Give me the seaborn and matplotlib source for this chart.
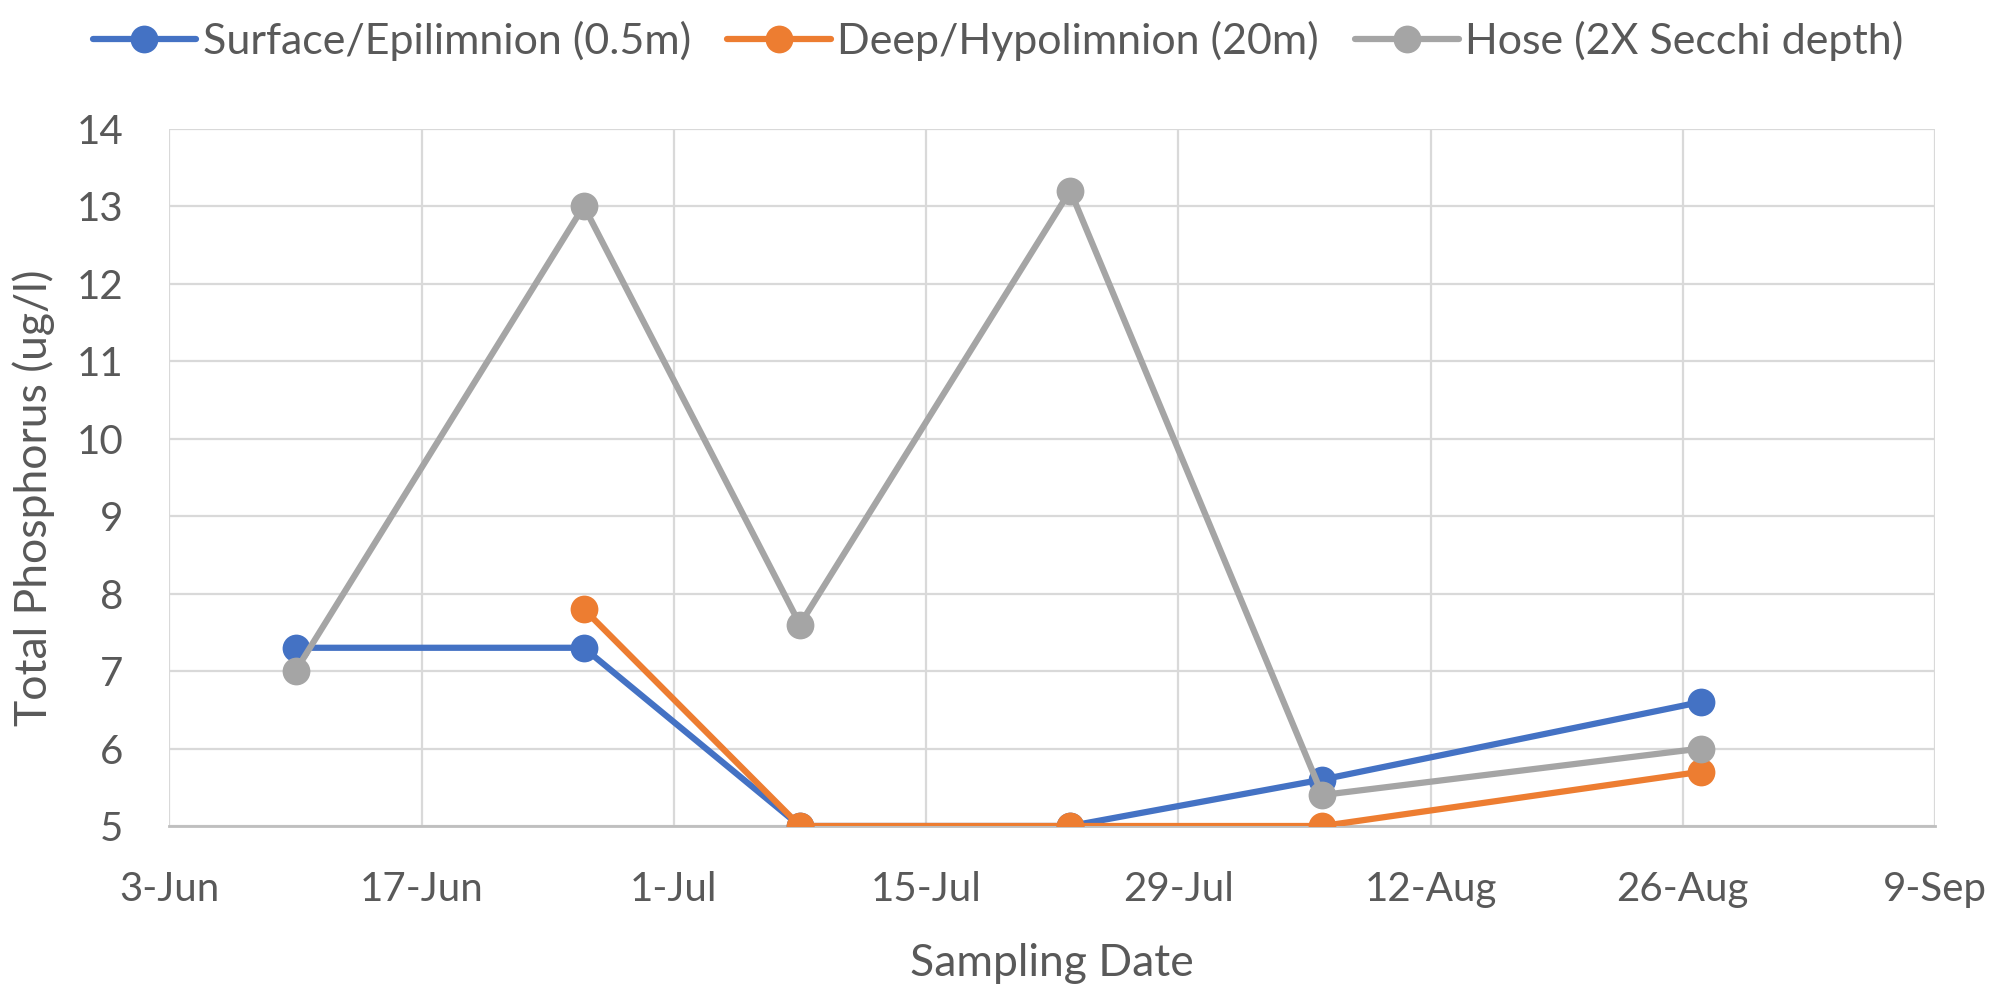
import matplotlib
matplotlib.use("Agg")
import matplotlib.pyplot as plt
import seaborn as sns
import pandas as pd
import numpy as np

# ---- data ----
sample_dates = ["2023-06-10", "2023-06-26", "2023-07-08", "2023-07-23", "2023-08-06", "2023-08-27"]
surface = [7.3, 7.3, 5.0, 5.0, 5.6, 6.6]
deep = [np.nan, 7.8, 5.0, 5.0, 5.0, 5.7]
hose = [7.0, 13.0, 7.6, 13.2, 5.4, 6.0]
series_names = ["Surface/Epilimnion (0.5m)", "Deep/Hypolimnion (20m)", "Hose (2X Secchi depth)"]
series_colors = ["#4472C4", "#ED7D31", "#A5A5A5"]
tick_dates = ["2023-06-03", "2023-06-17", "2023-07-01", "2023-07-15", "2023-07-29",
              "2023-08-12", "2023-08-26", "2023-09-09"]
tick_labels = ["3-Jun", "17-Jun", "1-Jul", "15-Jul", "29-Jul", "12-Aug", "26-Aug", "9-Sep"]
y_ticks = [5, 6, 7, 8, 9, 10, 11, 12, 13, 14]

sns.set_theme(style="white")
plt.rcParams['font.family'] = ['Lato', 'DejaVu Sans']

dates = pd.to_datetime(sample_dates)
df = pd.DataFrame({
    "date": list(dates) * 3,
    "value": surface + deep + hose,
    "series": [series_names[0]] * 6 + [series_names[1]] * 6 + [series_names[2]] * 6,
})

W, H = 1996, 986
ax_l, ax_r, ax_t, ax_b = 169.4, 1935.0, 128.6, 826.0
fig = plt.figure(figsize=(W / 100, H / 100), dpi=100)
ax = fig.add_axes([ax_l / W, 1 - ax_b / H, (ax_r - ax_l) / W, (ax_b - ax_t) / H])

for name, color in zip(series_names, series_colors):
    sub = df[df["series"] == name].dropna()
    sns.lineplot(data=sub, x="date", y="value", ax=ax, color=color, linewidth=4.5,
                 marker="o", markersize=20, markeredgewidth=0, label=name, zorder=3)

tdates = pd.to_datetime(tick_dates)
ax.set_xlim(tdates[0], tdates[-1])
ax.set_xticks(tdates)
ax.set_xticklabels(tick_labels)
ax.set_ylim(5, 14)
ax.set_yticks(y_ticks)

ax.grid(True, color="#D9D9D9", linewidth=1.6, zorder=0)
for s in ["top", "right", "left"]:
    ax.spines[s].set_visible(False)
ax.spines["bottom"].set_color("#BFBFBF")
ax.spines["bottom"].set_linewidth(2)
ax.spines["bottom"].set_zorder(1)

ax.tick_params(axis="both", length=0, labelsize=29, labelcolor="#595959")
ax.tick_params(axis="x", pad=32.5)
ax.tick_params(axis="y", pad=33)

ax.set_xlabel("Sampling Date", fontsize=32, color="#595959", va="center")
ax.set_ylabel("Total Phosphorus (ug/l)", fontsize=32, color="#595959", va="center")
ax.xaxis.set_label_coords(0.5, (ax_b - 963) / (ax_b - ax_t))
ax.yaxis.set_label_coords((34 - ax_l) / (ax_r - ax_l), (ax_b - 498) / (ax_b - ax_t))

handles, labels = ax.get_legend_handles_labels()
ax.get_legend().remove()
leg = fig.legend(handles, labels, loc="center", bbox_to_anchor=(0.5, 1 - 41 / H),
                 ncol=3, frameon=False, fontsize=31, handlelength=2.4, columnspacing=0.85,
                 handletextpad=0.15, borderaxespad=0, borderpad=0)
for t in leg.get_texts():
    t.set_color("#595959")

fig.savefig("out.png", dpi=100)
